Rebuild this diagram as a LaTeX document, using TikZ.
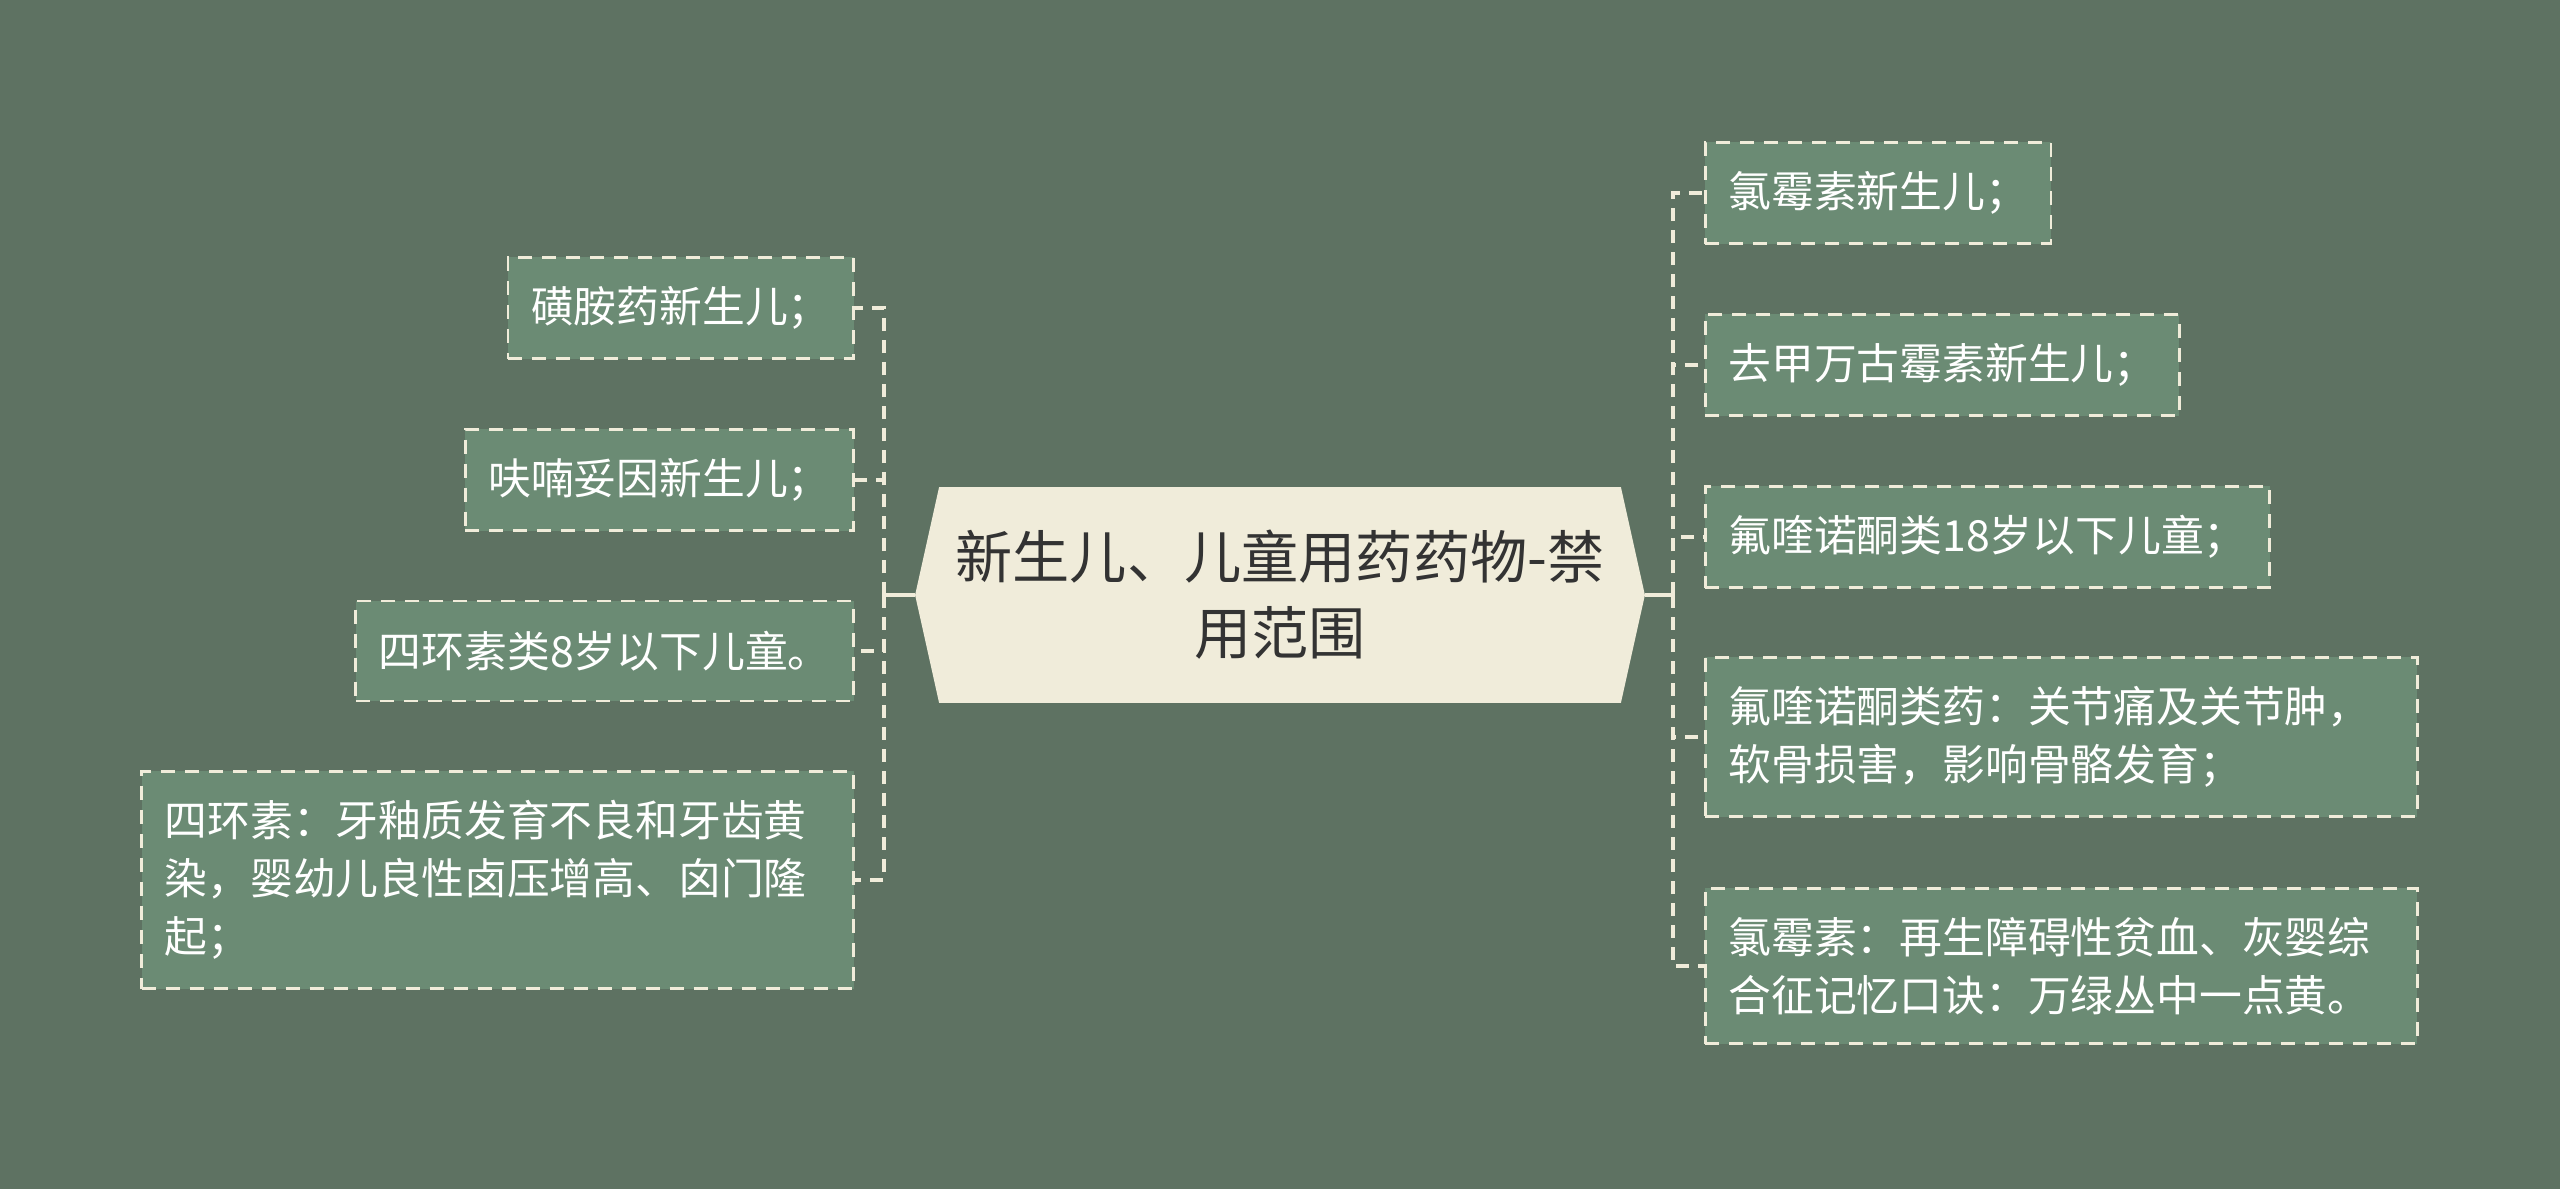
\documentclass[tikz,border=0pt]{standalone}
\usepackage{fontspec}
\newfontfamily\cjkfont{Noto Sans CJK SC}
\usetikzlibrary{backgrounds}
\definecolor{bgcol}{RGB}{94,114,98}
\definecolor{leafcol}{RGB}{107,139,116}
\definecolor{creamcol}{RGB}{240,236,218}
\definecolor{inkcol}{RGB}{51,51,51}

\begin{document}
\begin{tikzpicture}[x=0.5pt,y=-0.5pt]
\tikzstyle{every node}+=[inner sep=0pt, font=\cjkfont]
\tikzstyle{leaf}=[draw=creamcol, line width=1.4pt, dash pattern=on 7pt off 5pt, fill=leafcol, text=white, font=\cjkfont\fontsize{21.4pt}{29pt}\selectfont, inner xsep=11.5pt, inner ysep=14.5pt, minimum height=50pt]
\tikzstyle{longleaf}=[leaf, text width=333pt, align=left]
\tikzstyle{stem}=[draw=creamcol, line width=1.7pt]
\tikzstyle{link}=[draw=creamcol, line width=1.7pt, dash pattern=on 6.5pt off 4.5pt]
\useasboundingbox (0,0) rectangle (2560,1189);
\begin{scope}[on background layer]
\fill [bgcol] (0,0) rectangle (2560,1189);
\end{scope}
% centre
\node [text=inkcol, font=\cjkfont\fontsize{28.6pt}{38pt}\selectfont, align=center, minimum width=340.5pt, minimum height=107.5pt] (ctr) at (1280,595) {新生儿、儿童用药药物-禁\\用范围};
\begin{scope}[on background layer]
\fill [creamcol] ([xshift=-12pt]ctr.west) -- (ctr.north west) -- (ctr.north east) -- ([xshift=12pt]ctr.east) -- (ctr.south east) -- (ctr.south west) -- cycle;
\end{scope}
% left side
\node [leaf, anchor=east] (l1) at (855,308) {磺胺药新生儿；};
\node [leaf, anchor=east] (l2) at (855,480) {呋喃妥因新生儿；};
\node [leaf, anchor=east] (l3) at (855,651) {四环素类8岁以下儿童。};
\node [longleaf, anchor=east] (l4) at (855,880) {四环素：牙釉质发育不良和牙齿黄\\染，婴幼儿良性卤压增高、囟门隆\\起；};
% right side
\node [leaf, anchor=west] (r1) at (1704,193) {氯霉素新生儿；};
\node [leaf, anchor=west] (r2) at (1704,365) {去甲万古霉素新生儿；};
\node [leaf, anchor=west] (r3) at (1704,537) {氟喹诺酮类18岁以下儿童；};
\node [longleaf, anchor=west] (r4) at (1704,737) {氟喹诺酮类药：关节痛及关节肿，\\软骨损害，影响骨骼发育；};
\node [longleaf, anchor=west] (r5) at (1704,966) {氯霉素：再生障碍性贫血、灰婴综\\合征记忆口诀：万绿丛中一点黄。};
% links
\coordinate (ltip) at ([xshift=-12pt]ctr.west);
\coordinate (rtip) at ([xshift=12pt]ctr.east);
\draw [stem] (ltip) -- ++(-31,0) coordinate (ljoin);
\draw [stem] (rtip) -- ++(28,0) coordinate (rjoin);
\foreach \n in {l1,l2,l3,l4}
  \draw [link] (ljoin) |- (\n.east);
\foreach \n in {r1,r2,r3,r4,r5}
  \draw [link] (rjoin) |- (\n.west);
\end{tikzpicture}
\end{document}
